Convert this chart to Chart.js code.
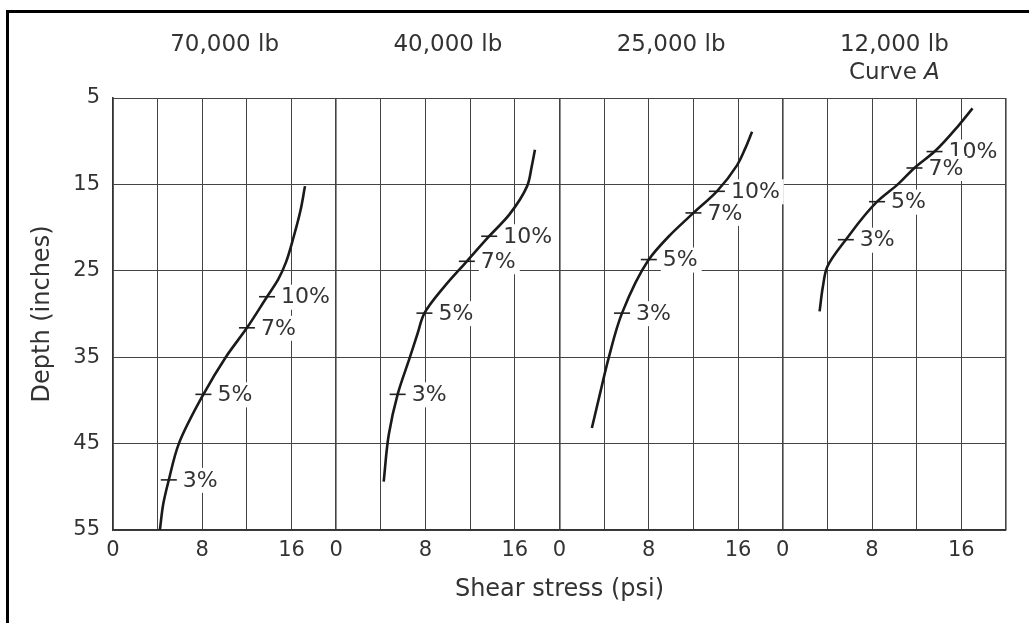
<!DOCTYPE html>
<html>
<head>
<meta charset="utf-8">
<script src="https://cdn.jsdelivr.net/npm/chart.js@4.4.1/dist/chart.umd.min.js"></script>
<style>
html, body { margin: 0; padding: 0; background: #fff; }
#wrap { position: relative; width: 1029px; height: 623px; overflow: hidden; }
#moldura { position: absolute; left: 6px; top: 10px; width: 1100px; height: 700px; border-top: 3px solid #000; border-left: 3px solid #000; }
canvas { position: absolute; left: 0; top: 0; }
</style>
</head>
<body>
<div id="wrap">
	<div id="moldura"></div>
	<canvas id="cisalhamento" width="1029" height="623"></canvas>
</div>
<script>
// cargas por painel
var cargas = ['70,000 lb', '40,000 lb', '25,000 lb', '12,000 lb'];
var rotulos = ['10%', '7%', '5%', '3%'];

// curvas: tensao (psi) x profundidade (in)
var tensao70 = [17.2, 16.8, 16.2, 15.5, 14.8, 13.8, 12.0, 10.1, 8.1, 5.9, 5.0, 4.5, 4.2];
var prof70 = [15.2, 18.0, 21.0, 24.0, 26.0, 28.0, 31.6, 35.0, 39.3, 45.0, 49.2, 52.0, 55.0];
var tensao40 = [17.8, 17.5, 17.1, 15.5, 13.7, 11.7, 9.7, 7.9, 7.3, 6.6, 5.5, 4.7, 4.25];
var prof40 = [11.0, 13.0, 15.2, 18.5, 21.0, 23.9, 26.8, 29.9, 32.2, 35.0, 39.3, 44.0, 49.4];
var tensao25 = [17.25, 16.65, 15.9, 14.1, 12.0, 9.8, 8.0, 5.6, 4.4, 3.65, 2.9];
var prof25 = [8.9, 10.8, 12.8, 15.8, 18.3, 21.0, 23.7, 29.9, 35.1, 39.1, 43.2];
var tensao12 = [17.0, 15.8, 13.6, 11.8, 10.3, 8.45, 5.65, 4.0, 3.6, 3.3];
var prof12 = [6.2, 8.1, 11.2, 13.1, 15.0, 17.0, 21.4, 24.5, 26.8, 29.7];

// marcas 10%, 7%, 5%, 3%
var marcaT70 = [13.8, 12.0, 8.1, 5.0];
var marcaP70 = [28.0, 31.6, 39.3, 49.2];
var marcaT40 = [13.7, 11.7, 7.9, 5.5];
var marcaP40 = [21.0, 23.9, 29.9, 39.3];
var marcaT25 = [14.1, 12.0, 8.0, 5.6];
var marcaP25 = [15.8, 18.3, 23.7, 29.9];
var marcaT12 = [13.6, 11.8, 8.45, 5.65];
var marcaP12 = [11.2, 13.1, 17.0, 21.4];

var ticksY = [5, 15, 25, 35, 45, 55];
var ticksXPainel = [0, 8, 16];
var larguraPainel = 20;

var curvas = [[tensao70, prof70], [tensao40, prof40], [tensao25, prof25], [tensao12, prof12]];
var marcas = [[marcaT70, marcaP70], [marcaT40, marcaP40], [marcaT25, marcaP25], [marcaT12, marcaP12]];

function montarPontos(tensao, prof, painel) {
	let pontos = [];
	for (let i = 0; i < tensao.length; i++) {
		pontos.push({ x: painel * larguraPainel + tensao[i], y: prof[i] });
	}
	return pontos;
}

var datasets = [];
for (let p = 0; p < curvas.length; p++) {
	datasets.push({
		label: cargas[p],
		data: montarPontos(curvas[p][0], curvas[p][1], p),
		showLine: true,
		borderColor: '#1a1a1a',
		borderWidth: 2.6,
		cubicInterpolationMode: 'monotone',
		pointRadius: 0
	});
	datasets.push({
		label: cargas[p] + ' marcas',
		data: montarPontos(marcas[p][0], marcas[p][1], p),
		showLine: false,
		pointStyle: 'line',
		pointRadius: 8,
		borderColor: '#222',
		borderWidth: 1.6
	});
}

var fonte = '"DejaVu Sans", sans-serif';

var pluginRotulos = {
	id: 'rotulos',
	beforeDatasetsDraw: function (chart) {
		let ctx = chart.ctx, x = chart.scales.x, y = chart.scales.y;
		ctx.save();
		ctx.font = '22px ' + fonte;
		ctx.textAlign = 'left';
		ctx.textBaseline = 'middle';
		for (let p = 0; p < marcas.length; p++) {
			for (let j = 0; j < rotulos.length; j++) {
				let px = x.getPixelForValue(p * larguraPainel + marcas[p][0][j]);
				let py = y.getPixelForValue(marcas[p][1][j]);
				let w = ctx.measureText(rotulos[j]).width;
				ctx.fillStyle = '#fff';
				ctx.fillRect(px + 12, py - 12, w + 6, 25);
				ctx.fillStyle = '#333';
				ctx.fillText(rotulos[j], px + 14, py + 1);
			}
		}
		ctx.restore();
	},
	afterDraw: function (chart) {
		let ctx = chart.ctx, x = chart.scales.x;
		ctx.save();
		ctx.fillStyle = '#333';
		ctx.font = '23px ' + fonte;
		ctx.textAlign = 'center';
		ctx.textBaseline = 'middle';
		for (let p = 0; p < cargas.length; p++) {
			ctx.fillText(cargas[p], x.getPixelForValue(p * larguraPainel + 10), 45);
		}
		// Curve A (A em italico)
		let cx = x.getPixelForValue(3 * larguraPainel + 10);
		ctx.textAlign = 'left';
		let w1 = ctx.measureText('Curve ').width;
		ctx.font = 'italic 23px ' + fonte;
		let w2 = ctx.measureText('A').width;
		let x0 = cx - (w1 + w2) / 2;
		ctx.font = '23px ' + fonte;
		ctx.fillText('Curve ', x0, 73);
		ctx.font = 'italic 23px ' + fonte;
		ctx.fillText('A', x0 + w1, 73);
		ctx.restore();
	}
};

var canvas = document.getElementById('cisalhamento');
var grafico = new Chart(canvas, {
	type: 'scatter',
	data: { datasets: datasets },
	plugins: [pluginRotulos],
	options: {
		indexAxis: 'y',
		responsive: false,
		animation: false,
		events: [],
		layout: { padding: { left: 20, top: 98, right: 23, bottom: 0 } },
		plugins: {
			legend: { display: false },
			tooltip: { enabled: false }
		},
		scales: {
			x: {
				type: 'linear',
				min: 0,
				max: 80,
				afterFit: function (scale) { scale.height = 93; },
				grid: {
					color: '#444',
					lineWidth: function (c) { return (c.tick && c.tick.value % 20 === 0) ? 1.6 : 1; },
					drawTicks: false
				},
				border: { color: '#333', width: 1.6 },
				ticks: {
					stepSize: 4,
					autoSkip: false,
					maxRotation: 0,
					padding: 8,
					color: '#333',
					font: { family: fonte, size: 21 },
					callback: function (v) {
						if (v >= 80) return '';
						let r = v % larguraPainel;
						return ticksXPainel.indexOf(r) >= 0 ? String(r) : '';
					}
				},
				title: {
					display: true,
					text: 'Shear stress (psi)',
					color: '#333',
					font: { family: fonte, size: 24 },
					padding: { top: 0, bottom: 19 }
				}
			},
			y: {
				type: 'linear',
				reverse: true,
				min: 5,
				max: 55,
				afterFit: function (scale) { scale.width = 93; },
				afterBuildTicks: function (scale) {
					scale.ticks = ticksY.map(function (v) { return { value: v }; });
				},
				grid: { color: '#444', lineWidth: 1, drawTicks: false },
				border: { color: '#333', width: 1.6 },
				ticks: {
					padding: 13,
					color: '#333',
					font: { family: fonte, size: 21 }
				},
				title: {
					display: true,
					text: 'Depth (inches)',
					color: '#333',
					font: { family: fonte, size: 24 },
					padding: { top: 8, bottom: 0 }
				}
			}
		}
	}
});
</script>
</body>
</html>
